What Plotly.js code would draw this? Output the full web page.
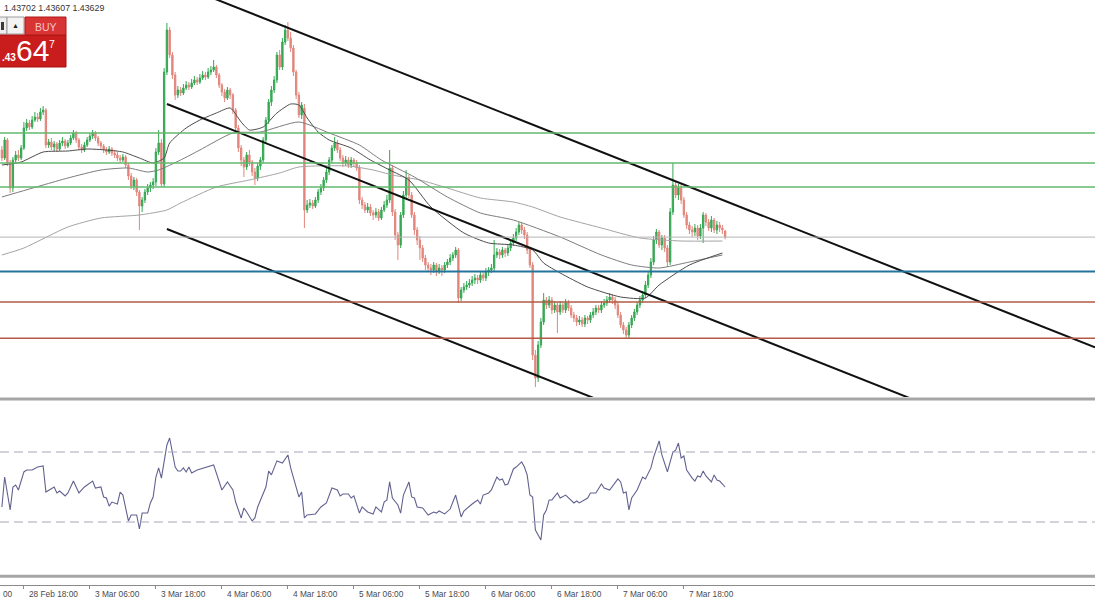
<!DOCTYPE html>
<html><head><meta charset="utf-8">
<script src="https://cdn.plot.ly/plotly-3.0.1.min.js"></script>
<style>html,body{margin:0;padding:0;background:#fff;overflow:hidden}#chart{width:1095px;height:600px}</style>
</head><body><div id="chart"></div>
<script>
// ---- M30 candles (bar index 0 = 28 Feb 14:00) ----
const barOpen = [
1.4450,1.4442,1.4460,1.4437,1.4412,1.4440,1.4445,1.4442,1.4452,1.4472,
1.4477,1.4473,1.4480,1.4483,1.4481,1.4488,1.4490,1.4455,1.4458,1.4453,
1.4456,1.4451,1.4457,1.4459,1.4454,1.4457,1.4462,1.4467,1.4460,1.4453,
1.4450,1.4455,1.4460,1.4464,1.4467,1.4462,1.4457,1.4454,1.4450,1.4448,
1.4451,1.4447,1.4445,1.4442,1.4440,1.4443,1.4435,1.4424,1.4414,1.4420,
1.4408,1.4394,1.4400,1.4408,1.4412,1.4415,1.4418,1.4448,1.4457,1.4416,
1.4528,1.4570,1.4545,1.4525,1.4505,1.4510,1.4507,1.4512,1.4515,1.4513,
1.4517,1.4520,1.4518,1.4522,1.4525,1.4523,1.4528,1.4530,1.4533,1.4525,
1.4515,1.4508,1.4502,1.4510,1.4505,1.4490,1.4472,1.4452,1.4440,1.4433,
1.4445,1.4438,1.4428,1.4422,1.4434,1.4440,1.4460,1.4480,1.4498,1.4510,
1.4520,1.4545,1.4533,1.4558,1.4570,1.4562,1.4552,1.4528,1.4505,1.4485,
1.4492,1.4390,1.4395,1.4397,1.4394,1.4400,1.4408,1.4412,1.4420,1.4428,
1.4440,1.4452,1.4457,1.4450,1.4442,1.4437,1.4440,1.4435,1.4440,1.4437,
1.4432,1.4400,1.4395,1.4390,1.4393,1.4387,1.4385,1.4388,1.4382,1.4390,
1.4395,1.4400,1.4432,1.4388,1.4365,1.4355,1.4385,1.4405,1.4422,1.4405,
1.4385,1.4370,1.4360,1.4352,1.4342,1.4335,1.4332,1.4330,1.4335,1.4328,
1.4332,1.4330,1.4335,1.4338,1.4342,1.4345,1.4350,1.4302,1.4310,1.4313,
1.4315,1.4317,1.4320,1.4322,1.4320,1.4325,1.4322,1.4328,1.4330,1.4332,
1.4345,1.4348,1.4345,1.4350,1.4347,1.4352,1.4357,1.4362,1.4368,1.4375,
1.4370,1.4365,1.4350,1.4335,1.4245,1.4222,1.4255,1.4278,1.4300,1.4295,
1.4300,1.4290,1.4295,1.4288,1.4295,1.4290,1.4297,1.4292,1.4285,1.4282,
1.4278,1.4280,1.4276,1.4282,1.4280,1.4285,1.4288,1.4292,1.4290,1.4295,
1.4297,1.4300,1.4303,1.4300,1.4295,1.4285,1.4275,1.4270,1.4265,1.4275,
1.4282,1.4288,1.4295,1.4300,1.4305,1.4315,1.4325,1.4338,1.4360,1.4368,
1.4355,1.4362,1.4352,1.4338,1.4388,1.4415,1.4405,1.4412,1.4400,1.4385,
1.4375,1.4370,1.4368,1.4372,1.4364,1.4372,1.4385,1.4378,1.4372,1.4380,
1.4370,1.4375,1.4372,1.4369];
const barHigh = [
1.4454,1.4463,1.4462,1.4440,1.4443,1.4449,1.4450,1.4455,1.4478,1.4481,
1.4480,1.4484,1.4488,1.4487,1.4492,1.4494,1.4492,1.4461,1.4462,1.4459,
1.4458,1.4460,1.4463,1.4461,1.4460,1.4465,1.4470,1.4469,1.4462,1.4456,
1.4458,1.4463,1.4467,1.4470,1.4469,1.4464,1.4459,1.4456,1.4453,1.4454,
1.4453,1.4450,1.4448,1.4445,1.4446,1.4445,1.4437,1.4427,1.4423,1.4422,
1.4410,1.4403,1.4411,1.4416,1.4418,1.4422,1.4452,1.4470,1.4461,1.4532,
1.4577,1.4573,1.4548,1.4528,1.4514,1.4513,1.4516,1.4519,1.4518,1.4521,
1.4524,1.4523,1.4526,1.4529,1.4528,1.4532,1.4534,1.4540,1.4535,1.4527,
1.4517,1.4511,1.4513,1.4512,1.4507,1.4492,1.4475,1.4455,1.4443,1.4448,
1.4450,1.4440,1.4432,1.4437,1.4443,1.4463,1.4483,1.4501,1.4514,1.4524,
1.4548,1.4550,1.4562,1.4575,1.4578,1.4568,1.4555,1.4530,1.4508,1.4498,
1.4496,1.4400,1.4401,1.4400,1.4403,1.4411,1.4416,1.4423,1.4432,1.4443,
1.4455,1.4463,1.4460,1.4453,1.4445,1.4444,1.4443,1.4443,1.4442,1.4440,
1.4435,1.4403,1.4398,1.4397,1.4396,1.4390,1.4392,1.4391,1.4393,1.4399,
1.4405,1.4450,1.4435,1.4391,1.4368,1.4388,1.4409,1.4430,1.4425,1.4408,
1.4388,1.4373,1.4364,1.4355,1.4345,1.4338,1.4336,1.4338,1.4337,1.4336,
1.4335,1.4338,1.4341,1.4346,1.4348,1.4353,1.4352,1.4313,1.4317,1.4319,
1.4321,1.4324,1.4326,1.4325,1.4329,1.4328,1.4332,1.4333,1.4336,1.4360,
1.4352,1.4351,1.4353,1.4352,1.4356,1.4361,1.4366,1.4372,1.4378,1.4377,
1.4373,1.4368,1.4353,1.4338,1.4250,1.4259,1.4282,1.4307,1.4303,1.4304,
1.4303,1.4299,1.4298,1.4299,1.4298,1.4301,1.4300,1.4295,1.4288,1.4285,
1.4284,1.4283,1.4285,1.4284,1.4288,1.4292,1.4295,1.4295,1.4299,1.4301,
1.4304,1.4307,1.4306,1.4303,1.4298,1.4288,1.4278,1.4273,1.4278,1.4285,
1.4291,1.4298,1.4304,1.4309,1.4319,1.4329,1.4342,1.4364,1.4371,1.4370,
1.4365,1.4365,1.4355,1.4392,1.4437,1.4418,1.4416,1.4415,1.4403,1.4388,
1.4378,1.4374,1.4376,1.4375,1.4376,1.4388,1.4387,1.4381,1.4384,1.4382,
1.4379,1.4378,1.4375,1.43702];
const barLow = [
1.4439,1.4440,1.4434,1.4407,1.4408,1.4437,1.4439,1.4440,1.4450,1.4469,
1.4470,1.4471,1.4478,1.4478,1.4479,1.4485,1.4452,1.4452,1.4450,1.4449,
1.4448,1.4449,1.4454,1.4451,1.4452,1.4455,1.4460,1.4457,1.4450,1.4447,
1.4448,1.4453,1.4458,1.4461,1.4459,1.4454,1.4451,1.4447,1.4445,1.4446,
1.4444,1.4442,1.4439,1.4437,1.4438,1.4432,1.4420,1.4411,1.4410,1.4404,
1.4370,1.4388,1.4397,1.4405,1.4408,1.4411,1.4414,1.4445,1.4413,1.4413,
1.4525,1.4542,1.4521,1.4500,1.4502,1.4504,1.4505,1.4510,1.4510,1.4511,
1.4515,1.4515,1.4516,1.4520,1.4520,1.4521,1.4525,1.4528,1.4522,1.4512,
1.4504,1.4498,1.4500,1.4501,1.4486,1.4468,1.4448,1.4434,1.4423,1.4430,
1.4434,1.4424,1.4415,1.4419,1.4430,1.4437,1.4457,1.4476,1.4494,1.4507,
1.4517,1.4530,1.4530,1.4555,1.4559,1.4548,1.4524,1.4501,1.4482,1.4481,
1.4372,1.4387,1.4392,1.4391,1.4392,1.4397,1.4405,1.4409,1.4417,1.4425,
1.4437,1.4449,1.4447,1.4439,1.4433,1.4434,1.4432,1.4432,1.4433,1.4429,
1.4396,1.4391,1.4387,1.4387,1.4384,1.4380,1.4382,1.4379,1.4380,1.4388,
1.4392,1.4397,1.4384,1.4360,1.4340,1.4352,1.4382,1.4402,1.4402,1.4382,
1.4365,1.4355,1.4340,1.4338,1.4330,1.4328,1.4325,1.4327,1.4324,1.4326,
1.4324,1.4327,1.4332,1.4335,1.4339,1.4342,1.4297,1.4299,1.4307,1.4310,
1.4312,1.4314,1.4316,1.4316,1.4317,1.4319,1.4319,1.4324,1.4327,1.4329,
1.4342,1.4341,1.4342,1.4343,1.4344,1.4349,1.4354,1.4359,1.4365,1.4366,
1.4361,1.4346,1.4332,1.4240,1.4213,1.4218,1.4252,1.4275,1.4291,1.4292,
1.4286,1.4287,1.4267,1.4285,1.4287,1.4287,1.4289,1.4282,1.4278,1.4274,
1.4275,1.4273,1.4273,1.4276,1.4277,1.4282,1.4285,1.4287,1.4287,1.4292,
1.4294,1.4297,1.4296,1.4291,1.4282,1.4272,1.4266,1.4262,1.4262,1.4272,
1.4279,1.4285,1.4292,1.4297,1.4302,1.4312,1.4322,1.4335,1.4356,1.4352,
1.4350,1.4348,1.4333,1.4335,1.4385,1.4402,1.4400,1.4396,1.4382,1.4371,
1.4366,1.4363,1.4364,1.4360,1.4361,1.4357,1.4374,1.4369,1.4368,1.4367,
1.4366,1.4368,1.4366,1.43607];
const barClose = [
1.4442,1.4460,1.4437,1.4412,1.4440,1.4445,1.4442,1.4452,1.4472,1.4477,
1.4473,1.4480,1.4483,1.4481,1.4488,1.4490,1.4455,1.4458,1.4453,1.4456,
1.4451,1.4457,1.4459,1.4454,1.4457,1.4462,1.4467,1.4460,1.4453,1.4450,
1.4455,1.4460,1.4464,1.4467,1.4462,1.4457,1.4454,1.4450,1.4448,1.4451,
1.4447,1.4445,1.4442,1.4440,1.4443,1.4435,1.4424,1.4414,1.4420,1.4408,
1.4394,1.4400,1.4408,1.4412,1.4415,1.4418,1.4448,1.4457,1.4416,1.4528,
1.4570,1.4545,1.4525,1.4505,1.4510,1.4507,1.4512,1.4515,1.4513,1.4517,
1.4520,1.4518,1.4522,1.4525,1.4523,1.4528,1.4530,1.4533,1.4525,1.4515,
1.4508,1.4502,1.4510,1.4505,1.4490,1.4472,1.4452,1.4440,1.4433,1.4445,
1.4438,1.4428,1.4422,1.4434,1.4440,1.4460,1.4480,1.4498,1.4510,1.4520,
1.4545,1.4533,1.4558,1.4570,1.4562,1.4552,1.4528,1.4505,1.4485,1.4495,
1.4390,1.4395,1.4397,1.4394,1.4400,1.4408,1.4412,1.4420,1.4428,1.4440,
1.4452,1.4457,1.4450,1.4442,1.4437,1.4440,1.4435,1.4440,1.4437,1.4432,
1.4400,1.4395,1.4390,1.4393,1.4387,1.4385,1.4388,1.4382,1.4390,1.4395,
1.4400,1.4432,1.4388,1.4365,1.4355,1.4385,1.4405,1.4422,1.4405,1.4385,
1.4370,1.4360,1.4352,1.4342,1.4335,1.4332,1.4330,1.4335,1.4328,1.4332,
1.4330,1.4335,1.4338,1.4342,1.4345,1.4350,1.4302,1.4310,1.4313,1.4315,
1.4317,1.4320,1.4322,1.4320,1.4325,1.4322,1.4328,1.4330,1.4332,1.4345,
1.4348,1.4345,1.4350,1.4347,1.4352,1.4357,1.4362,1.4368,1.4375,1.4370,
1.4365,1.4350,1.4335,1.4245,1.4222,1.4255,1.4278,1.4300,1.4295,1.4300,
1.4290,1.4295,1.4288,1.4295,1.4290,1.4297,1.4292,1.4285,1.4282,1.4278,
1.4280,1.4276,1.4282,1.4280,1.4285,1.4288,1.4292,1.4290,1.4295,1.4297,
1.4300,1.4303,1.4300,1.4295,1.4285,1.4275,1.4270,1.4265,1.4275,1.4282,
1.4288,1.4295,1.4300,1.4305,1.4315,1.4325,1.4338,1.4360,1.4368,1.4355,
1.4362,1.4352,1.4338,1.4388,1.4415,1.4405,1.4412,1.4400,1.4385,1.4375,
1.4370,1.4368,1.4372,1.4364,1.4372,1.4385,1.4378,1.4372,1.4380,1.4370,
1.4375,1.4372,1.4370,1.43629];

// ---- moving averages (bar index, price) ----
const maFastBar = [0,7,15,24,31,38,44,50,55,59,61,67,72,78,83,87,90,95,100,105,108,111,115,119,127,134,141,148,156,168,177,186,193,197,203,213,225,234,239,250,262];
const maFastValue = [1.4435,1.4438,1.4448,1.4449,1.4451,1.4450,1.4448,1.4442,1.4437,1.4442,1.4457,1.4472,1.4480,1.4487,1.4492,1.4478,1.4470,1.4473,1.4487,1.4496,1.4495,1.4482,1.4468,1.4460,1.4452,1.4440,1.4430,1.4420,1.4393,1.4367,1.4357,1.4355,1.4350,1.4337,1.4327,1.4313,1.4303,1.4302,1.4315,1.4335,1.4347];
const maMidBar = [0,15,24,36,46,53,57,65,72,84,94,108,119,130,138,150,162,174,186,203,218,229,239,250,262];
const maMidValue = [1.4403,1.4415,1.4422,1.4430,1.4432,1.4428,1.4430,1.4440,1.4450,1.4467,1.4468,1.4478,1.4467,1.4455,1.4440,1.4423,1.4403,1.4387,1.4380,1.4363,1.4345,1.4335,1.4332,1.4338,1.4345];
const maSlowBar = [0,8,24,36,50,60,65,78,90,101,108,126,135,142,152,162,174,186,193,203,218,232,247,262];
const maSlowValue = [1.4345,1.4352,1.4373,1.4382,1.4385,1.4390,1.4397,1.4413,1.4420,1.4427,1.4433,1.4434,1.4430,1.4425,1.4420,1.4412,1.4402,1.4398,1.4393,1.4383,1.4372,1.4362,1.4359,1.4359];

// ---- RSI (bar index, value) ----
const rsiBar = [0,1,3,4,5,6,8,9,11,13,15,16,19,20,21,23,24,26,28,30,33,34,36,37,38,39,40,42,43,44,46,47,49,50,51,53,54,55,56,57,58,59,60,61,62,63,64,65,66,67,68,69,71,75,76,77,80,82,84,85,87,88,89,91,92,93,96,97,98,100,102,104,105,106,108,109,110,111,114,116,118,120,122,123,124,126,127,128,130,131,133,135,136,138,139,140,141,142,144,145,146,148,149,150,151,153,155,157,158,159,161,163,165,167,168,171,173,174,175,177,178,180,181,182,183,184,186,187,189,190,191,192,193,194,196,197,198,199,200,202,203,205,207,208,209,210,213,214,216,218,219,221,224,225,226,227,228,229,231,233,234,236,237,239,240,242,244,245,246,247,248,249,251,252,253,254,255,256,258,259,260,261,263];
const rsiValue = [38.6,55.7,36.9,50.0,51.1,48.3,58.6,59.7,59.7,61.4,62.0,47.1,50.0,46.6,47.7,44.9,46.6,53.4,46.6,50.0,53.4,49.4,50.0,44.3,43.7,39.1,41.4,40.3,47.1,45.4,30.6,34.0,34.0,26.0,35.1,35.1,40.9,44.3,55.7,60.9,55.1,64.3,74.0,78.0,69.4,61.4,59.1,59.1,60.9,58.6,61.4,58.0,59.7,61.4,62.0,62.6,48.3,52.9,48.3,41.4,32.3,38.0,35.7,30.6,32.3,38.6,50.0,59.1,56.9,64.9,63.7,68.3,60.9,55.7,44.3,47.1,32.3,34.0,34.6,38.6,40.9,49.4,48.3,44.9,46.0,46.0,43.7,44.9,35.1,38.6,35.7,34.6,38.6,35.7,41.4,42.6,52.9,43.7,39.7,35.1,45.4,52.9,44.3,43.7,38.6,38.0,34.0,35.7,35.1,36.3,34.6,37.4,45.4,32.9,36.3,40.3,42.6,40.3,45.4,46.6,48.3,55.7,54.0,54.6,51.1,51.7,60.3,61.4,64.3,61.4,56.9,45.4,44.3,25.4,19.7,34.0,36.9,42.6,42.6,46.6,43.7,45.4,42.6,40.9,42.0,40.9,43.7,46.6,46.6,51.7,49.4,48.3,54.6,52.9,46.6,47.1,36.9,43.7,48.3,55.7,54.6,60.9,67.1,76.3,68.3,58.6,70.0,71.1,75.1,66.6,67.7,59.7,55.1,53.4,56.3,55.7,59.1,56.3,52.9,56.9,54.0,53.4,50.0];
const rsiLevels = [70, 30];

// ---- drawn objects ----
const greenLevels = [1.4467, 1.4437, 1.4413];
const blueLevels = [1.43285];
const brownLevels = [1.4298, 1.42617];
const upperLineBar = [75, 397.5],  upperLinePrice = [1.46038, 1.42526];
const middleLineBar = [60, 397.5], middleLinePrice = [1.4496, 1.41285];
const lowerLineBar = [60, 397.5],  lowerLinePrice = [1.4371, 1.40035];

// ---- time axis ----
const tickBar = [8, 32, 56, 80, 104, 128, 152, 176, 200, 224, 248];
const tickText = ['28 Feb 18:00','3 Mar 06:00','3 Mar 18:00','4 Mar 06:00','4 Mar 18:00','5 Mar 06:00','5 Mar 18:00','6 Mar 06:00','6 Mar 18:00','7 Mar 06:00','7 Mar 18:00'];
const edgeLabelText = '00';   // visible tail of the label "28 Feb 06:00" at the left edge
const askPrice = '1.43647';

// ---------------------------------------------------------
const W = 1095, H = 600;
const fx = p => p / W, fy = p => 1 - p / H;
const PX_PER_BAR = 2.75, X0 = 1.9;
const xRange = [(0 - X0) / PX_PER_BAR, (W - X0) / PX_PER_BAR];
const barIdx = barOpen.map((_, i) => i);
const last = barClose.length - 1;
const FONT = 'Liberation Sans, Arial, sans-serif';

const traces = [];
traces.push({type:'scatter', mode:'lines', x:maSlowBar, y:maSlowValue, line:{color:'#a4a4a4', width:1, shape:'spline', smoothing:0.6}, hoverinfo:'skip'});
traces.push({type:'scatter', mode:'lines', x:maMidBar, y:maMidValue, line:{color:'#7c7c7c', width:1, shape:'spline', smoothing:0.6}, hoverinfo:'skip'});
traces.push({type:'scatter', mode:'lines', x:maFastBar, y:maFastValue, line:{color:'#4c4c4c', width:1, shape:'spline', smoothing:0.6}, hoverinfo:'skip'});
traces.push({type:'candlestick', x:barIdx, open:barOpen, high:barHigh, low:barLow, close:barClose,
  increasing:{line:{color:'#35a853', width:1}, fillcolor:'#35a853'},
  decreasing:{line:{color:'#e2867c', width:1}, fillcolor:'#e2867c'},
  whiskerwidth:0, hoverinfo:'skip'});
[[upperLineBar, upperLinePrice],[middleLineBar, middleLinePrice],[lowerLineBar, lowerLinePrice]].forEach(([b,p]) => {
  traces.push({type:'scatter', mode:'lines', x:b, y:p, line:{color:'#111', width:2}, hoverinfo:'skip'});
});
traces.push({type:'scatter', mode:'lines', x:rsiBar, y:rsiValue, yaxis:'y2', line:{color:'#626290', width:1.1}, hoverinfo:'skip'});

const shapes = [];
const hline = (price, color, width, yref, dash) => shapes.push({type:'line', xref:'paper', x0:0, x1:1, yref:yref||'y', y0:price, y1:price, line:{color, width, dash:dash||'solid'}});
greenLevels.forEach(v => hline(v, '#62b96c', 1.5));
hline(barClose[last], '#b4b4b4', 1);
blueLevels.forEach(v => hline(v, '#24739c', 1.8));
brownLevels.forEach(v => hline(v, '#b25a45', 1.5));
rsiLevels.forEach(v => hline(v, '#a6a6bc', 1, 'y2', '9px,5px'));
// window separators
const sep = (py, w, c) => shapes.push({type:'line', xref:'paper', yref:'paper', x0:0, x1:1, y0:fy(py), y1:fy(py), line:{color:c, width:w}});
sep(399, 3, '#a6a6a6');
sep(576.3, 3, '#a6a6a6');
// trade panel
const rect = (x0,y0,x1,y1,fill,lc) => shapes.push({type:'rect', xref:'paper', yref:'paper', x0:fx(x0), x1:fx(x1), y0:fy(y1), y1:fy(y0), fillcolor:fill, line:{color:lc||fill, width:lc?1:0}});
rect(-2,17,7,34,'#eeeeee','#9c9c9c');
rect(1,22,4,30,'#3a3a3a');
rect(7,17,24,34,'#f3f3f3','#9c9c9c');
rect(-2,35,66,67,'#c91c1c','#a81010');
rect(25,17,66,35,'#d83434','#b01818');

const annotations = [];
const ann = (x, y, text, size, color, anchor) => annotations.push({xref:'paper', yref:'paper', x:fx(x), y:fy(y), text, showarrow:false, xanchor:anchor||'center', yanchor:'middle', font:{family:FONT, size, color}});
ann(1.5, 8, barHigh[last].toFixed(5) + ' ' + barLow[last].toFixed(5) + ' ' + barClose[last].toFixed(5), 8.8, '#333', 'left');
ann(15.5, 25.5, '▲', 7, '#222');
ann(45.5, 26.5, 'BUY', 10.5, '#f6c4c4');
ann(-0.5, 57.5, '<b>' + askPrice.slice(1, 4) + '</b>', 10, '#ffffff', 'left');
ann(32, 51, askPrice.slice(4, 6), 30, '#ffffff');
ann(52, 43.5, askPrice.slice(6), 10.5, '#ffffff');
// time labels, left-aligned just after each tick mark
tickBar.forEach((b, k) => ann(X0 + PX_PER_BAR * b + 3.5, 593.5, tickText[k], 8.3, '#4a4a4a', 'left'));
ann(0.5, 593.5, edgeLabelText, 8.3, '#4a4a4a', 'left');

const layout = {
  width:W, height:H, margin:{l:0, r:0, t:0, b:0}, paper_bgcolor:'#fff', plot_bgcolor:'#fff',
  showlegend:false, hovermode:false, dragmode:false,
  xaxis:{range:xRange, anchor:'free', position:fy(584.6), showgrid:false, zeroline:false, showline:true, linecolor:'#8a8a8a', linewidth:1,
         tickvals:tickBar, ticktext:tickText, showticklabels:false, ticks:'outside', ticklen:3, tickcolor:'#8a8a8a', rangeslider:{visible:false}, fixedrange:true},
  yaxis:{domain:[fy(397), 1], range:[1.46 - 0.0397, 1.46], visible:false, showgrid:false, zeroline:false, anchor:'x', fixedrange:true},
  yaxis2:{domain:[fy(574.5), fy(399.5)], range:[0, 100], visible:false, showgrid:false, zeroline:false, anchor:'x', fixedrange:true},
  shapes, annotations
};
Plotly.newPlot('chart', traces, layout, {staticPlot:true, displayModeBar:false});
</script>
</body></html>
